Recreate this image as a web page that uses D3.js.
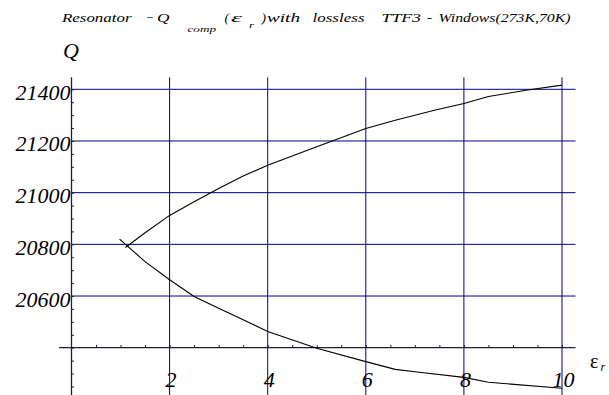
<!DOCTYPE html>
<html><head><meta charset="utf-8">
<script src="https://cdn.jsdelivr.net/npm/d3@7"></script>
</head><body style="margin:0">
<svg id="c" width="609" height="395"></svg>
<script>
// ---- data ----
const upperEps = [1.1, 1.5, 2, 2.5, 3, 3.5, 4, 5, 6, 6.6, 7.4, 8, 8.5, 9.3, 10];
const upperQ   = [20788, 20845, 20912, 20965, 21016, 21064, 21106, 21178, 21248, 21280, 21319, 21345, 21372, 21397, 21416];
const lowerEps = [0.98, 1.5, 2, 2.5, 3, 3.5, 4, 5, 6, 6.6, 7, 8, 8.5, 10];
const lowerQ   = [20820, 20733, 20663, 20598, 20553, 20508, 20463, 20398, 20346, 20316, 20307, 20285, 20266, 20243];
const xTickLabels = [2, 4, 6, 8, 10];
const yTickLabels = [20600, 20800, 21000, 21200, 21400];
const xGrid = [2, 4, 6, 8, 10];
const yGrid = [20600, 20800, 21000, 21200, 21400];
const xMinorTicks = d3.range(0.5, 10.01, 0.5);
const yMinorTicks = d3.range(20250, 21401, 50);

const svg = d3.select("#c");
const x = d3.scaleLinear().domain([0, 10]).range([71.5, 562]);
const y = d3.scaleLinear().domain([20400, 21400]).range([347.7, 89.3]);
const yTop = y.invert(77.3), yBot = y.invert(395);
const xLeft = x.invert(59), xRight = x.invert(575.5);

const navy = "#000080";
const axisCol = "#1e1e3c";
const fontFam = "Liberation Serif";

// grid
svg.append("g").selectAll("line").data(yGrid).join("line")
  .attr("x1", x(0)).attr("x2", x(xRight))
  .attr("y1", d => y(d)).attr("y2", d => y(d))
  .attr("stroke", navy).attr("stroke-width", 1);
svg.append("g").selectAll("line").data(xGrid).join("line")
  .attr("x1", d => x(d)).attr("x2", d => x(d))
  .attr("y1", y(yTop)).attr("y2", y(yBot))
  .attr("stroke", navy).attr("stroke-width", 1);

// axes lines
svg.append("line").attr("x1", x(xLeft)).attr("x2", x(xRight))
  .attr("y1", y(20400)).attr("y2", y(20400)).attr("stroke", axisCol).attr("stroke-width", 1.3);
svg.append("line").attr("x1", x(0)).attr("x2", x(0))
  .attr("y1", y(yTop)).attr("y2", y(yBot)).attr("stroke", axisCol).attr("stroke-width", 1.3);

// minor ticks
const yTicksAxis = d3.axisRight(y).tickValues(yMinorTicks).tickSize(2.5).tickFormat("");
svg.append("g").attr("transform", `translate(${x(0)},0)`).call(yTicksAxis)
  .call(g => g.select(".domain").remove())
  .selectAll("line").attr("stroke", axisCol).attr("stroke-width", 1);
const xTicksAxis = d3.axisTop(x).tickValues(xMinorTicks).tickSize(2.7).tickFormat("");
svg.append("g").attr("transform", `translate(0,${y(20400)})`).call(xTicksAxis)
  .call(g => g.select(".domain").remove())
  .selectAll("line").attr("stroke", axisCol).attr("stroke-width", 1);

// tick labels
const yLab = d3.axisLeft(y).tickValues(yTickLabels).tickSize(0).tickPadding(0).tickFormat(d3.format("d"));
svg.append("g").attr("transform", `translate(${x(0) - 1},0)`).call(yLab)
  .attr("font-family", fontFam).attr("font-size", 22)
  .call(g => g.select(".domain").remove())
  .selectAll("text").attr("dy", "10px").attr("x", 0)
  .attr("font-family", fontFam).attr("font-style", "italic").attr("font-size", 22).attr("fill", "#000");
const xLab = d3.axisBottom(x).tickValues(xTickLabels).tickSize(0).tickFormat(d3.format("d"));
svg.append("g").attr("transform", `translate(1,${y(20400)})`).call(xLab)
  .attr("font-family", fontFam).attr("font-size", 22)
  .call(g => g.select(".domain").remove())
  .selectAll("text").attr("y", 39).attr("dy", 0)
  .attr("font-family", fontFam).attr("font-style", "italic").attr("font-size", 22).attr("fill", "#000");

// curves
const line = d3.line().x(d => x(d[0])).y(d => y(d[1]));
svg.append("path").datum(d3.zip(upperEps, upperQ)).attr("d", line)
  .attr("fill", "none").attr("stroke", "#000").attr("stroke-width", 1.1);
svg.append("path").datum(d3.zip(lowerEps, lowerQ)).attr("d", line)
  .attr("fill", "none").attr("stroke", "#000").attr("stroke-width", 1.1);

// axis labels
svg.append("text").attr("x", 63).attr("y", 58).text("Q")
  .attr("font-family", fontFam).attr("font-style", "italic").attr("font-size", 22);
svg.append("text").attr("x", 590).attr("y", 367.5).text("ε")
  .attr("font-family", fontFam).attr("font-size", 20);
svg.append("text").attr("x", 600.5).attr("y", 370.5).text("r")
  .attr("font-family", fontFam).attr("font-style", "italic").attr("font-size", 12);

// title pieces (horizontally stretched like the reference)
const titleParts = [
  {t: "Resonator", x: 62, y: 21.7, w: 69.5, s: 12.5},
  {t: "−", x: 146, y: 21.7, w: 8, s: 12.5},
  {t: "Q", x: 157, y: 21.7, w: 12.5, s: 12.5},
  {t: "comp", x: 187.5, y: 31.7, w: 28.5, s: 9},
  {t: "(", x: 224.5, y: 21.7, w: 4.5, s: 12.5},
  {t: "ε", x: 231, y: 21.7, w: 11, s: 13},
  {t: "r", x: 249, y: 28.3, w: 5, s: 9},
  {t: ")", x: 261.5, y: 21.7, w: 4.5, s: 12.5},
  {t: "with", x: 267, y: 21.7, w: 33, s: 12.5},
  {t: "lossless", x: 312.5, y: 21.7, w: 52, s: 12.5},
  {t: "TTF3", x: 381.5, y: 21.7, w: 39.5, s: 12.5},
  {t: "-", x: 427, y: 21.7, w: 5, s: 12.5},
  {t: "Windows(273K,70K)", x: 438.5, y: 21.7, w: 132, s: 12.5}
];
svg.append("g").selectAll("text").data(titleParts).join("text")
  .attr("x", d => d.x).attr("y", d => d.y).text(d => d.t)
  .attr("font-family", fontFam).attr("font-style", "italic")
  .attr("font-size", d => d.s)
  .attr("textLength", d => d.w).attr("lengthAdjust", "spacingAndGlyphs")
  .attr("fill", "#000");
</script></body></html>
